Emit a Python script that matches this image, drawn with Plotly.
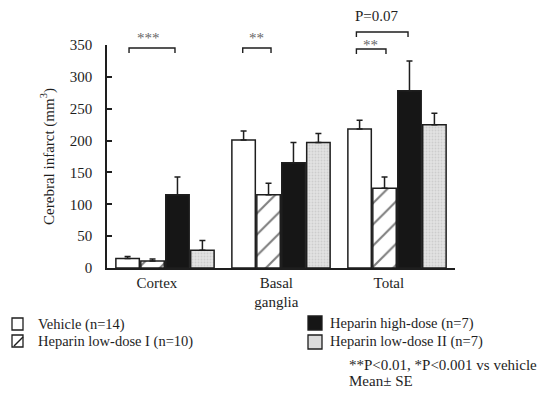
import plotly.graph_objects as go

regions = ["Cortex", "Basal<br>ganglia", "Total"]
series_names = ["Vehicle (n=14)", "Heparin low-dose I (n=10)", "Heparin high-dose (n=7)", "Heparin low-dose II (n=7)"]
vehicle = [15, 201, 218]
vehicle_se = [3, 14, 14]
low1 = [11, 115, 125]
low1_se = [3, 18, 18]
high = [115, 165, 278]
high_se = [28, 32, 47]
low2 = [28, 197, 225]
low2_se = [15, 14, 18]
y_ticks = [0, 50, 100, 150, 200, 250, 300, 350]

# page offset (browser body margin)
OFF = 8
W, H = 545 - OFF, 393 - OFF
L, R, T, B = 107 - OFF, 90, 45 - OFF, 125
PW, PH = W - L - R, H - T - B

def px(x):
    return (x - OFF - L) / PW

def py(y):
    return (H - B - (y - OFF)) / PH

ink = "#1e1e1e"
xs = [0, 1, 2]
fig = go.Figure()
styles = [
    dict(color="white", pattern=None),
    dict(color="white", pattern=dict(shape="/", fgcolor="#000", bgcolor="white", size=15, solidity=0.14)),
    dict(color="#161616", pattern=None),
    dict(color="#dcdcdc", pattern=dict(shape=".", fgcolor="#b8b8b8", bgcolor="#e2e2e2", size=3, solidity=0.3)),
]
data = [(vehicle, vehicle_se), (low1, low1_se), (high, high_se), (low2, low2_se)]
for name, (vals, se), st in zip(series_names, data, styles):
    marker = dict(color=st["color"], line=dict(color=ink, width=1.5))
    if st["pattern"]:
        marker["pattern"] = st["pattern"]
    fig.add_trace(go.Bar(
        x=xs, y=vals, name=name, marker=marker, showlegend=False,
        error_y=dict(type="data", symmetric=False, array=se, arrayminus=[0] * len(se),
                     color=ink, thickness=1.5, width=3),
    ))

shapes = []
annotations = []

def bracket(x0, x1, ytop, ybot):
    shapes.append(dict(type="path", xref="x", yref="paper",
                       path=f"M {x0},{py(ybot)} L {x0},{py(ytop)} L {x1},{py(ytop)} L {x1},{py(ybot)}",
                       line=dict(color=ink, width=1.4)))

bracket(0 - 0.31, 0 + 0.086, 48, 53)
bracket(1 - 0.33, 1 - 0.086, 48, 53)
bracket(2 - 0.35, 2 - 0.095, 49, 54)
bracket(2 - 0.35, 2 + 0.095, 32, 37)

def note(x, y, text, size=15, color="#666"):
    annotations.append(dict(x=x, y=py(y), xref="x", yref="paper", text=text, showarrow=False,
                            xanchor="center", yanchor="middle",
                            font=dict(family="Liberation Serif", size=size, color=color)))

note(0 - 0.14, 38, "***")
note(1 - 0.215, 38, "**")
note(2 - 0.225, 45, "**")
note(2 - 0.17, 16, "P=0.07", size=15, color=ink)

# legend
def square(x0, x1, y0, y1, fill):
    shapes.append(dict(type="rect", xref="paper", yref="paper", x0=px(x0), x1=px(x1), y0=py(y0), y1=py(y1),
                       fillcolor=fill, line=dict(color=ink, width=1.3)))

def label(x, y, text, size=14.5):
    annotations.append(dict(x=px(x), y=py(y), xref="paper", yref="paper", text=text, showarrow=False,
                            xanchor="left", yanchor="middle",
                            font=dict(family="Liberation Serif", size=size, color=ink)))

square(12, 23, 318, 330, "white")
label(36, 324, series_names[0])
square(12, 23, 335, 347, "white")
shapes.append(dict(type="line", xref="paper", yref="paper", x0=px(14), x1=px(23), y0=py(346), y1=py(337),
                   line=dict(color=ink, width=1.5)))
label(36, 341, series_names[1])
square(308, 322, 316, 330, "#161616")
label(328, 323, series_names[2])
square(308, 322, 335, 349, "#dcdcdc")
label(328, 341, series_names[3])
label(347, 365, "**P<0.01, *P<0.001 vs vehicle", size=15)
label(347, 381, "Mean\u00b1 SE", size=15)

fig.update_layout(
    width=W, height=H, margin=dict(l=L, r=R, t=T, b=B),
    paper_bgcolor="white", plot_bgcolor="white",
    barmode="group", bargap=0.14, bargroupgap=0.06,
    font=dict(family="Liberation Serif", color=ink),
    shapes=shapes, annotations=annotations,
    xaxis=dict(range=[-0.5, 2.5], tickvals=[-0.07, 0.96, 1.93], ticktext=regions,
               showline=True, linecolor=ink, linewidth=1.5, ticks="", showgrid=False, zeroline=False,
               tickfont=dict(size=15, color=ink)),
    yaxis=dict(range=[0, 350], tickvals=y_ticks, showline=True, linecolor=ink, linewidth=1.5,
               ticks="inside", ticklen=5, tickwidth=1.5, tickcolor=ink, showgrid=False, zeroline=False,
               ticklabelstandoff=10, tickfont=dict(size=15, color=ink),
               title=dict(text="Cerebral infarct (mm<sup>3</sup>)", font=dict(size=15, color=ink), standoff=12)),
)

fig.write_html("out.html")
